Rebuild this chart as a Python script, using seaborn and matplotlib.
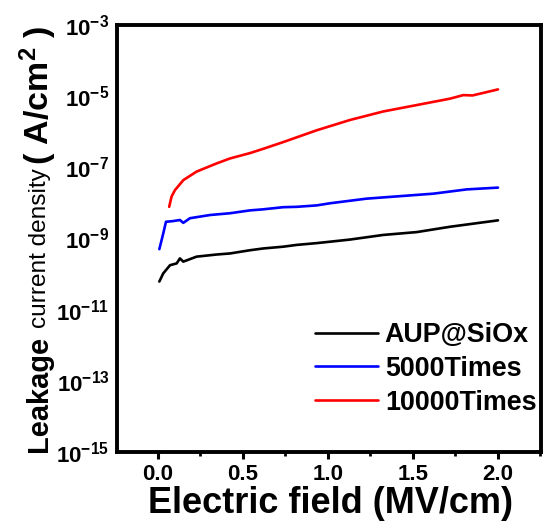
import numpy as np
import pandas as pd
import matplotlib
matplotlib.use("Agg")
import matplotlib.pyplot as plt
import seaborn as sns
from matplotlib.ticker import FixedLocator, FuncFormatter, MultipleLocator, NullLocator

# ---- data (log10 of current density in A/cm^2) ----
series_names = ["AUP@SiOx", "5000Times", "10000Times"]
series_colors = ["#000000", "#0000ff", "#ff0000"]

black_x = [0.008, 0.031, 0.071, 0.110, 0.129, 0.149, 0.227, 0.345, 0.424, 0.541,
           0.619, 0.737, 0.816, 0.933, 1.012, 1.129, 1.325, 1.522, 1.718, 2.000]
black_log = [-10.21, -9.98, -9.75, -9.70, -9.56, -9.65, -9.51, -9.45, -9.42, -9.33,
             -9.28, -9.23, -9.18, -9.13, -9.09, -9.03, -8.90, -8.82, -8.67, -8.49]

blue_x = [0.008, 0.031, 0.047, 0.090, 0.129, 0.149, 0.188, 0.306, 0.424, 0.541,
          0.619, 0.737, 0.816, 0.933, 1.012, 1.227, 1.424, 1.620, 1.816, 2.000]
blue_log = [-9.30, -8.86, -8.53, -8.51, -8.48, -8.56, -8.43, -8.34, -8.29, -8.21,
            -8.18, -8.12, -8.11, -8.07, -8.01, -7.88, -7.81, -7.74, -7.62, -7.57]

red_x = [0.066, 0.080, 0.100, 0.149, 0.227, 0.345, 0.424, 0.541, 0.619, 0.737,
         0.933, 1.129, 1.325, 1.522, 1.718, 1.796, 1.850, 2.000]
red_log = [-8.11, -7.82, -7.64, -7.36, -7.12, -6.89, -6.75, -6.60, -6.48, -6.29,
           -5.96, -5.67, -5.43, -5.25, -5.07, -4.97, -4.98, -4.81]

x_ticks = [0.0, 0.5, 1.0, 1.5, 2.0]
y_tick_exps = [-15, -13, -11, -9, -7, -5, -3]

frames = []
for name, xs, ls in zip(series_names, [black_x, blue_x, red_x], [black_log, blue_log, red_log]):
    frames.append(pd.DataFrame({"field": xs, "J": np.power(10.0, ls), "sample": name}))
df = pd.concat(frames, ignore_index=True)

# ---- style ----
sns.set_theme(style="white")
plt.rcParams["font.family"] = ["Liberation Sans", "DejaVu Sans"]
plt.rcParams["mathtext.fontset"] = "custom"
plt.rcParams["mathtext.bf"] = "Liberation Sans:bold"
plt.rcParams["mathtext.rm"] = "Liberation Sans:bold"
for k in ["text.color", "axes.labelcolor", "xtick.color", "ytick.color", "axes.edgecolor"]:
    plt.rcParams[k] = "black"

W, H = 543, 529
fig = plt.figure(figsize=(W / 100, H / 100), dpi=100)
fig.patch.set_facecolor("white")
ax = fig.add_axes([117 / W, 1 - 452 / H, (541 - 117) / W, (452 - 25) / H])
ax.set_facecolor("white")

sns.lineplot(data=df, x="field", y="J", hue="sample", hue_order=series_names,
             palette=dict(zip(series_names, series_colors)), linewidth=1.9,
             estimator=None, sort=False, legend=False, ax=ax)

ax.set_yscale("log")
ax.set_ylim(1e-15, 1e-3)
ax.set_xlim(-0.241, 2.253)
ax.set_xlabel("")
ax.set_ylabel("")

for s in ax.spines.values():
    s.set_visible(True)
    s.set_linewidth(2.8)
    s.set_color("black")

ax.xaxis.set_major_locator(FixedLocator(x_ticks))
ax.xaxis.set_minor_locator(MultipleLocator(0.25))
ax.xaxis.set_major_formatter(FuncFormatter(lambda v, p: f"{v:.1f}"))
ax.yaxis.set_major_locator(FixedLocator([10.0 ** e for e in y_tick_exps]))
ax.yaxis.set_minor_locator(NullLocator())
ax.yaxis.set_major_formatter(FuncFormatter(
    lambda v, p: r"$\mathbf{10^{%d}}$" % int(round(np.log10(v)))))

ax.tick_params(axis="x", which="major", direction="out", length=5, width=2.2,
               color="black", labelcolor="black", labelsize=16, pad=4, bottom=True, top=False)
ax.tick_params(axis="x", which="minor", direction="out", length=3.2, width=2.0,
               color="black", bottom=True, top=False)
ax.tick_params(axis="y", which="major", length=0, labelsize=16, pad=5.5,
               labelcolor="black", left=True, right=False)
for lab in ax.get_xticklabels():
    lab.set_fontweight("bold")

leg = ax.legend(ax.lines[:3], series_names, loc="upper left",
                bbox_to_anchor=(315 / W, 1 - 322 / H), bbox_transform=fig.transFigure,
                frameon=False, borderpad=0, borderaxespad=0, handlelength=2.33,
                handletextpad=0.26, labelspacing=0.29,
                prop={"family": "Liberation Sans", "weight": "bold", "size": 19.4})
for t in leg.get_texts():
    t.set_color("black")

# ---- axis titles ----
fig.text(330 / W, 1 - 513 / H, "Electric field (MV/cm)", ha="center", va="baseline",
         fontsize=26, fontweight="bold", family="Liberation Sans", color="black")

def vtext(s, x_px, y_px, size, weight="bold"):
    fig.text(x_px / W, 1 - y_px / H, s, rotation=90, rotation_mode="anchor",
             ha="left", va="baseline", fontsize=size, fontweight=weight,
             family="Liberation Sans", color="black")

vtext("Leakage", 47, 452, 20.9)
vtext("current density", 46, 328, 17.6, weight="normal")
vtext(r"( A/cm$\mathbf{^{2}}$ )", 49, 165, 24.5)

fig.savefig("out.png", dpi=100, facecolor="white")
